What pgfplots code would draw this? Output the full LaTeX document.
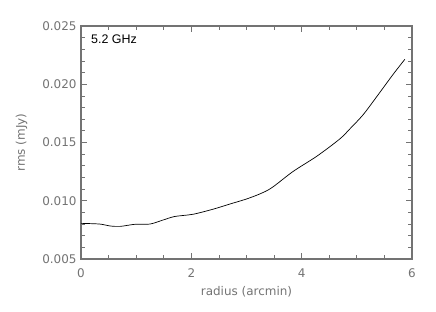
\documentclass[border=0pt]{standalone}
\usepackage{fontspec}
\setmainfont{DejaVu Sans}
\newfontfamily\lab{Liberation Sans}
\usepackage{pgfplots}
\pgfplotsset{compat=1.18}
\begin{document}
\begin{tikzpicture}
\useasboundingbox (0,0) rectangle (436bp,-312bp);
\begin{axis}[
  at={(81bp,-259bp)}, anchor=south west,
  scale only axis, width=331bp, height=233bp,
  xmin=0, xmax=6, ymin=0.005, ymax=0.025,
  xtick={0,2,4,6}, minor xtick={0.5,1,1.5,2.5,3,3.5,4.5,5,5.5},
  ytick={0.005,0.010,0.015,0.020,0.025},
  minor ytick={0.006,0.007,0.008,0.009,0.011,0.012,0.013,0.014,0.016,0.017,0.018,0.019,0.021,0.022,0.023,0.024},
  yticklabels={0.005,0.010,0.015,0.020,0.025},
  xticklabels={0,2,4,6},
  scaled y ticks=false,
  tick align=inside,
  major tick length=6bp, minor tick length=4bp,
  axis line style={draw=black!55, line width=1.2pt},
  every tick/.style={draw=black!55, line width=0.8pt},
  tick label style={font=\fontsize{12}{12}\selectfont, text=black!55},
  label style={font=\fontsize{12}{12}\selectfont, text=black!55},
  xlabel={radius (arcmin)},
  ylabel={rms (mJy)},
  xlabel style={at={(axis description cs:0.5,0)}, anchor=north, yshift=-24bp},
  ylabel style={at={(axis description cs:0,0.5)}, anchor=south, yshift=50bp},
  yticklabel style={xshift=-1bp},
  xticklabel style={yshift=-6bp},
  clip=false,
]
\addplot[black, line width=0.7pt, smooth, tension=0.5] coordinates {
(0.00,0.00806) (0.34,0.00800) (0.52,0.00784) (0.71,0.00780) (0.98,0.00798)
(1.25,0.00800) (1.49,0.00835) (1.70,0.00865) (2.03,0.00884) (2.39,0.00927)
(2.70,0.00972) (3.06,0.01025) (3.42,0.01100) (3.84,0.01250) (4.28,0.01384)
(4.69,0.01530) (4.87,0.01615) (5.11,0.01736) (5.36,0.01893) (5.65,0.02080)
(5.87,0.02214)
};
\node[anchor=west, inner sep=0pt, font=\lab\fontsize{12.5}{12.5}\selectfont] at (axis description cs:0.03,0.944) {5.2 GHz};
\end{axis}
\end{tikzpicture}
\end{document}
